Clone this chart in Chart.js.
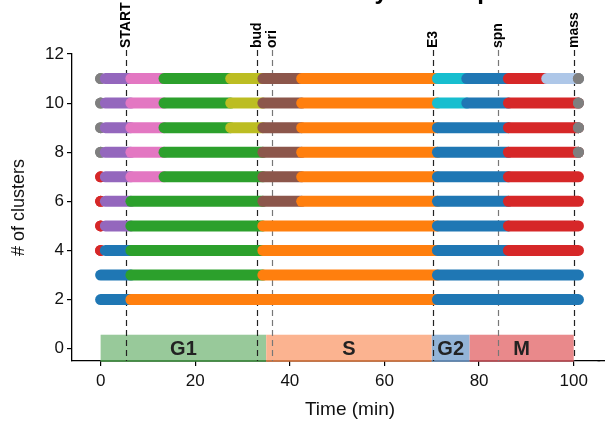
<!DOCTYPE html>
<html>
<head>
    <title>Clusters over the cell cycle</title>
    <script src="https://cdn.jsdelivr.net/npm/chart.js"></script>
    <style>
        body {
            margin: 0;
            background-color: #fff;
        }
        #wrap {
            width: 605px;
            height: 424px;
        }
    </style>
</head>
<body>
    <div id="wrap"><canvas id="myChart"></canvas></div>

    <script>
        // Cluster states per row: [start min, end min, state]
        const row11 = [[0, 0, 'gray'], [1, 6.4, 'purple'], [6.4, 13.4, 'pink'], [13.4, 27.5, 'green'], [27.5, 34.3, 'olive'], [34.3, 42.5, 'brown'], [42.5, 71.2, 'orange'], [71.2, 77.4, 'cyan'], [77.4, 86.2, 'blue'], [86.2, 94.3, 'red'], [94.3, 101, 'lightblue'], [101, 101, 'gray']];
        const row10 = [[0, 0, 'gray'], [1, 6.4, 'purple'], [6.4, 13.4, 'pink'], [13.4, 27.5, 'green'], [27.5, 34.3, 'olive'], [34.3, 42.5, 'brown'], [42.5, 71.2, 'orange'], [71.2, 77.4, 'cyan'], [77.4, 86.2, 'blue'], [86.2, 101, 'red'], [101, 101, 'gray']];
        const row9 = [[0, 0, 'gray'], [1, 6.4, 'purple'], [6.4, 13.4, 'pink'], [13.4, 27.5, 'green'], [27.5, 34.3, 'olive'], [34.3, 42.5, 'brown'], [42.5, 71.2, 'orange'], [71.2, 86.2, 'blue'], [86.2, 101, 'red'], [101, 101, 'gray']];
        const row8 = [[0, 0, 'gray'], [1, 6.4, 'purple'], [6.4, 13.4, 'pink'], [13.4, 34.3, 'green'], [34.3, 42.5, 'brown'], [42.5, 71.2, 'orange'], [71.2, 86.2, 'blue'], [86.2, 101, 'red'], [101, 101, 'gray']];
        const row7 = [[0, 0, 'red'], [1, 6.4, 'purple'], [6.4, 13.4, 'pink'], [13.4, 34.3, 'green'], [34.3, 42.5, 'brown'], [42.5, 71.2, 'orange'], [71.2, 86.2, 'blue'], [86.2, 101, 'red']];
        const row6 = [[0, 0, 'red'], [1, 6.4, 'purple'], [6.4, 34.3, 'green'], [34.3, 42.5, 'brown'], [42.5, 71.2, 'orange'], [71.2, 86.2, 'blue'], [86.2, 101, 'red']];
        const row5 = [[0, 0, 'red'], [1, 6.4, 'purple'], [6.4, 34.3, 'green'], [34.3, 71.2, 'orange'], [71.2, 86.2, 'blue'], [86.2, 101, 'red']];
        const row4 = [[0, 0, 'red'], [1, 6.4, 'blue'], [6.4, 34.3, 'green'], [34.3, 71.2, 'orange'], [71.2, 86.2, 'blue'], [86.2, 101, 'red']];
        const row3 = [[0, 6.4, 'blue'], [6.4, 34.3, 'green'], [34.3, 71.2, 'orange'], [71.2, 101, 'blue']];
        const row2 = [[0, 6.4, 'blue'], [6.4, 71.2, 'orange'], [71.2, 101, 'blue']];

        const rowLevels = [11, 10, 9, 8, 7, 6, 5, 4, 3, 2];
        const rowSegments = [row11, row10, row9, row8, row7, row6, row5, row4, row3, row2];

        const xTicks = [0, 20, 40, 60, 80, 100];
        const yTicks = [0, 2, 4, 6, 8, 10, 12];

        // Cell cycle phases
        const phaseNames = ['G1', 'S', 'G2', 'M'];
        const phaseStart = [0, 35, 70, 78];
        const phaseEnd = [35, 70, 78, 100];

        // Events (dashed lines)
        const eventNames = ['START', 'bud', 'ori', 'E3', 'spn', 'mass'];
        const eventTimes = [5.3, 33.1, 36.2, 70.2, 84.1, 100];

        const stateColors = {
            blue: '#1f77b4', orange: '#ff7f0e', green: '#2ca02c', red: '#d62728',
            purple: '#9467bd', brown: '#8c564b', pink: '#e377c2', gray: '#7f7f7f',
            olive: '#bcbd22', cyan: '#17becf', lightblue: '#aec7e8'
        };
        const phaseColors = ['#98c99a', '#fbb390', '#93b4d7', '#e9898b'];
        const phaseEdges = ['#2a7a2a', '#c0602a', '#4f78a6', '#a83a42'];
        const eventColors = ['#222', '#222', '#777', '#222', '#777', '#222'];
        const narrow = "'Liberation Sans Narrow', 'Arial Narrow', 'Liberation Sans', sans-serif";

        // One line per segment, later segments on top
        const datasets = [];
        rowSegments.forEach((segs, r) => {
            const y = rowLevels[r];
            segs.forEach((s, k) => {
                const dot = s[0] === s[1];
                datasets.push({
                    data: [{ x: s[0], y: y }, { x: s[1], y: y }],
                    borderColor: stateColors[s[2]],
                    backgroundColor: stateColors[s[2]],
                    borderWidth: 11,
                    borderCapStyle: 'round',
                    showLine: !dot,
                    pointRadius: dot ? 5.5 : 0,
                    pointBorderWidth: 0,
                    pointHoverRadius: 0,
                    order: -k
                });
            });
        });

        const overlay = {
            id: 'overlay',
            beforeDatasetsDraw(chart) {
                const { ctx, chartArea } = chart;
                const x = chart.scales.x, y = chart.scales.y;
                ctx.save();
                // x axis keeps going past the cropped right edge
                const axisY = Math.round(x.top - 0.65) + 0.65;
                ctx.strokeStyle = '#000';
                ctx.lineWidth = 1.3;
                ctx.beginPath();
                ctx.moveTo(chartArea.right - 2, axisY);
                ctx.lineTo(chart.width, axisY);
                ctx.stroke();
                // phase bars
                phaseNames.forEach((n, i) => {
                    const x0 = x.getPixelForValue(phaseStart[i]);
                    const x1 = x.getPixelForValue(phaseEnd[i]);
                    const yt = y.getPixelForValue(0.57);
                    const yb = y.getPixelForValue(-0.5);
                    ctx.fillStyle = phaseColors[i];
                    ctx.fillRect(x0, yt, x1 - x0, yb - yt);
                    ctx.strokeStyle = phaseEdges[i];
                    ctx.lineWidth = 1.5;
                    ctx.beginPath();
                    ctx.moveTo(x0, yb);
                    ctx.lineTo(x1, yb);
                    ctx.stroke();
                });
                // event lines
                ctx.setLineDash([6, 4]);
                eventNames.forEach((n, i) => {
                    const px = Math.round(x.getPixelForValue(eventTimes[i])) + 0.5;
                    ctx.strokeStyle = eventColors[i];
                    ctx.lineWidth = 1.2;
                    ctx.beginPath();
                    ctx.moveTo(px, chartArea.top - 4);
                    ctx.lineTo(px, chartArea.bottom);
                    ctx.stroke();
                });
                ctx.setLineDash([]);
                // event labels, reading upward
                ctx.fillStyle = '#000';
                ctx.font = "bold 14px 'Liberation Sans', Arial, sans-serif";
                ctx.textAlign = 'left';
                ctx.textBaseline = 'middle';
                eventNames.forEach((n, i) => {
                    const px = x.getPixelForValue(eventTimes[i]);
                    ctx.save();
                    ctx.translate(px, chartArea.top - 6);
                    ctx.rotate(-Math.PI / 2);
                    ctx.fillText(n, 0, 0);
                    ctx.restore();
                });
                ctx.restore();
            },
            afterDatasetsDraw(chart) {
                const { ctx } = chart;
                const x = chart.scales.x, y = chart.scales.y;
                ctx.save();
                ctx.fillStyle = '#222';
                ctx.font = 'bold 20px ' + narrow;
                ctx.textAlign = 'center';
                ctx.textBaseline = 'middle';
                phaseNames.forEach((n, i) => {
                    const px = x.getPixelForValue((phaseStart[i] + phaseEnd[i]) / 2);
                    ctx.fillText(n, px, y.getPixelForValue(0) + 1);
                });
                // x axis title, centred on the full (cropped) axis
                ctx.fillStyle = '#111';
                ctx.font = '19px ' + narrow;
                ctx.fillText('Time (min)', 350, 410);
                // title, mostly cut off at the top edge
                ctx.fillStyle = '#000';
                ctx.font = "bold 24px 'Liberation Sans', Arial, sans-serif";
                ctx.textBaseline = 'alphabetic';
                ctx.fillText('Cluster dynamics per cell', 416, -1);
                ctx.restore();
            }
        };

        const ctx = document.getElementById('myChart').getContext('2d');
        const myChart = new Chart(ctx, {
            type: 'line',
            data: { datasets: datasets },
            plugins: [overlay],
            options: {
                responsive: true,
                maintainAspectRatio: false,
                animation: false,
                layout: { padding: { top: 54, left: 0, right: 0, bottom: 0 } },
                plugins: {
                    legend: { display: false },
                    tooltip: { enabled: false }
                },
                scales: {
                    x: {
                        type: 'linear',
                        min: -6.05,
                        max: 105.45,
                        afterBuildTicks: s => { s.ticks = xTicks.map(v => ({ value: v })); },
                        afterFit: s => { s.height = 63; },
                        grid: { drawOnChartArea: false, drawTicks: true, tickLength: 5, color: '#000', lineWidth: 1.2 },
                        border: { display: true, color: '#000', width: 1.3 },
                        ticks: { color: '#111', font: { family: narrow, size: 17 }, padding: 5, maxRotation: 0 },
                        title: { display: false }
                    },
                    y: {
                        type: 'linear',
                        min: -0.5,
                        max: 12,
                        afterBuildTicks: s => { s.ticks = yTicks.map(v => ({ value: v })); },
                        afterFit: s => { s.width = 72; },
                        grid: { drawOnChartArea: false, drawTicks: true, tickLength: 5, color: '#000', lineWidth: 1.2 },
                        border: { display: true, color: '#000', width: 1.3 },
                        ticks: { color: '#111', font: { family: narrow, size: 17 }, padding: 3 },
                        title: { display: true, text: '# of clusters', color: '#111', font: { family: narrow, size: 18 }, padding: { top: 8, bottom: 0 } }
                    }
                }
            }
        });
    </script>
</body>
</html>
